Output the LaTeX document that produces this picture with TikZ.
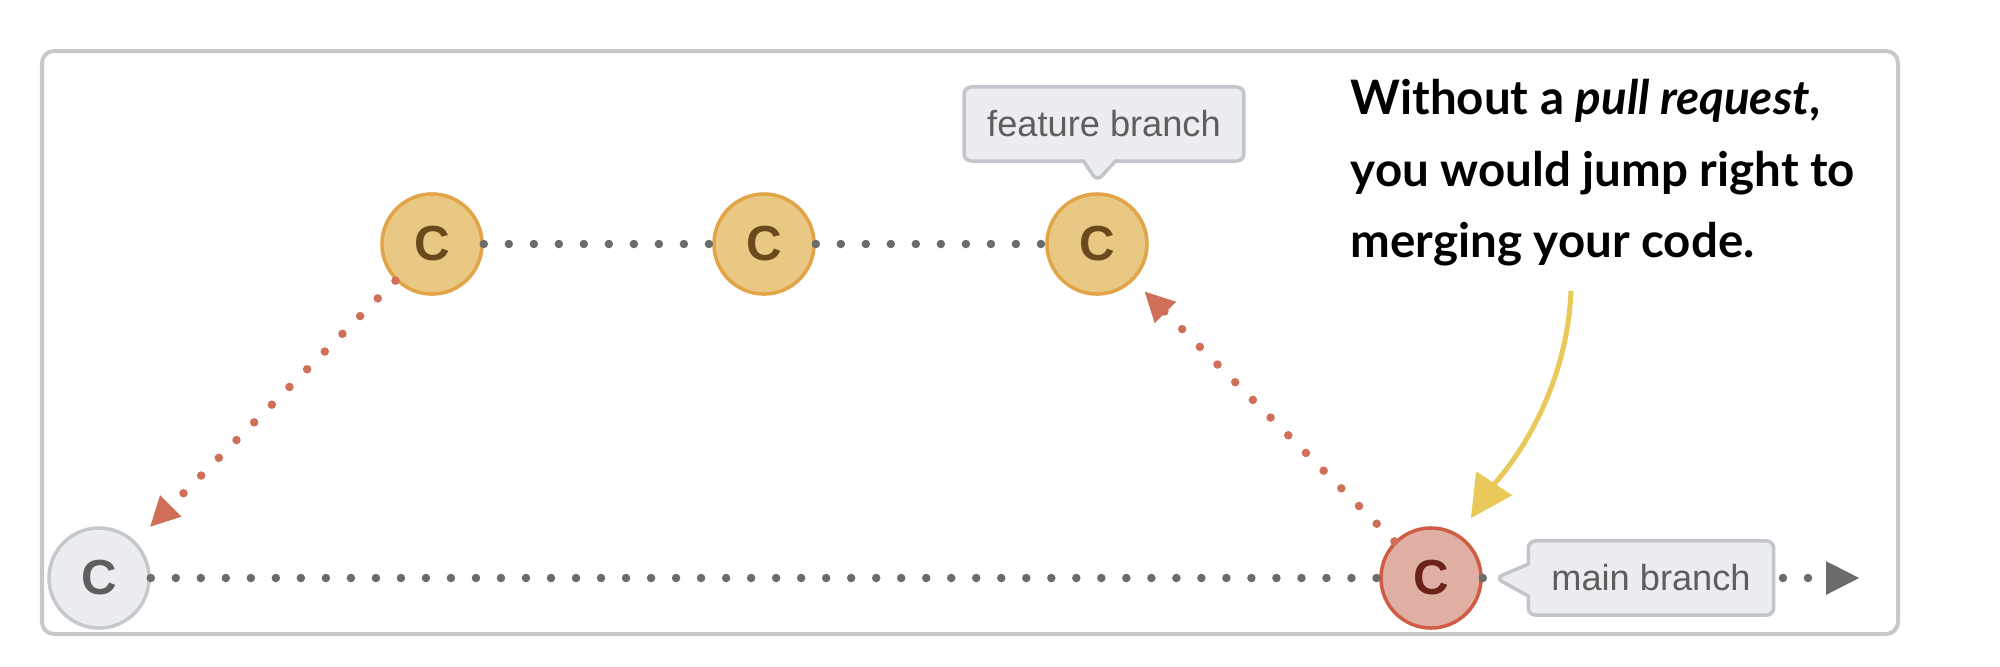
\documentclass[tikz,border=0pt]{standalone}
\usepackage{fontspec}
\setmainfont{Liberation Sans}
\newfontfamily\notefont{Lato}
\usepackage{tikz}
\usetikzlibrary{arrows.meta, shapes.callouts}

\definecolor{framegray}{HTML}{C8C8C8}
\definecolor{dotgray}{HTML}{6B6B6B}
\definecolor{tagfill}{HTML}{EBEDF0}
\definecolor{tagline}{HTML}{C2C5C9}
\definecolor{tagtext}{HTML}{5E5E5E}
\definecolor{oldline}{HTML}{C5C9CD}
\definecolor{oldfill}{HTML}{EBEDF0}
\definecolor{oldtext}{HTML}{5F5F5F}
\definecolor{featureline}{HTML}{E2A446}
\definecolor{featurefill}{HTML}{E9C884}
\definecolor{featuretext}{HTML}{6A4A1C}
\definecolor{mainline}{HTML}{CF5C43}
\definecolor{mainfill}{HTML}{E0AFA4}
\definecolor{maintext}{HTML}{6B2218}
\definecolor{mergered}{HTML}{D06F58}
\definecolor{hintyellow}{HTML}{E8C95A}

\begin{document}
\begin{tikzpicture}[x=0.01cm, y=-0.01cm,
	commit/.style={circle, draw=#1line, fill=#1fill, text=#1text, line width=0.035cm,
	minimum size=1cm, inner sep=0pt, font=\fontsize{14}{14}\bfseries\selectfont},
	commit/.default=old,
	dotline/.style={draw=#1, line width=0.085cm, line cap=round, dash pattern=on 0pt off 0.25cm},
	dotline/.default=dotgray,
	arr/.style={-{Triangle[length=0.3cm, width=0.28cm]}},
	tag/.style={rectangle callout, draw=tagline, fill=tagfill, text=tagtext, line width=0.035cm,
	rounded corners=2pt, callout pointer width=0.32cm, inner xsep=0.23cm, minimum height=0.74cm,
	font=\fontsize{10.3}{10.3}\selectfont},
	note/.style={anchor=north west, align=left, inner sep=0pt,
	font=\notefont\fontsize{13.5}{20.2}\bfseries\selectfont}]

	\useasboundingbox (0,0) rectangle (2000,666);
	\draw [framegray, line width=0.04cm, rounded corners=0.12cm] (42,51) rectangle (1898,634);

	\node [commit] (c0) at (99,578) {C};
	\node [commit=feature] (c1) at (432,244) {C};
	\node [commit=feature] (c2) at (764,244) {C};
	\node [commit=feature] (c3) at (1097,244) {C};
	\node [commit=main] (c4) at (1431,578) {C};
	\coordinate (tip) at (1860,578);
	\coordinate (hint) at (1571,291);

	\draw [dotline] (c0) -- (c4);
	\draw [dotline] (c1) -- (c2);
	\draw [dotline] (c2) -- (c3);
	\draw [dotline, -{Triangle[length=0.34cm, width=0.31cm]}] (c4) -- (tip);
	\draw [dotline=mergered, arr, shorten >=0.2cm] (c1) -- (c0);
	\draw [dotline=mergered, arr, shorten >=0.15cm] (c4) -- (c3);

	\node [tag, callout absolute pointer={([yshift=0.11cm]c3.north)}] (featb) at (1104,124) {feature branch};
	\node [tag, callout absolute pointer={([xshift=0.13cm]c4.east)}] (mainb) at (1651,578) {main branch};

	\node [note] (hinttext) at (1350,79) {Without a \textit{pull request},\\you would jump right to\\merging your code.};
	\draw [hintyellow, line width=0.05cm, -{Triangle[length=0.42cm, width=0.42cm]}, shorten >=0.2cm]
		(hint) .. controls +(-5,120) and +(60,-90) .. (c4);
\end{tikzpicture}
\end{document}
